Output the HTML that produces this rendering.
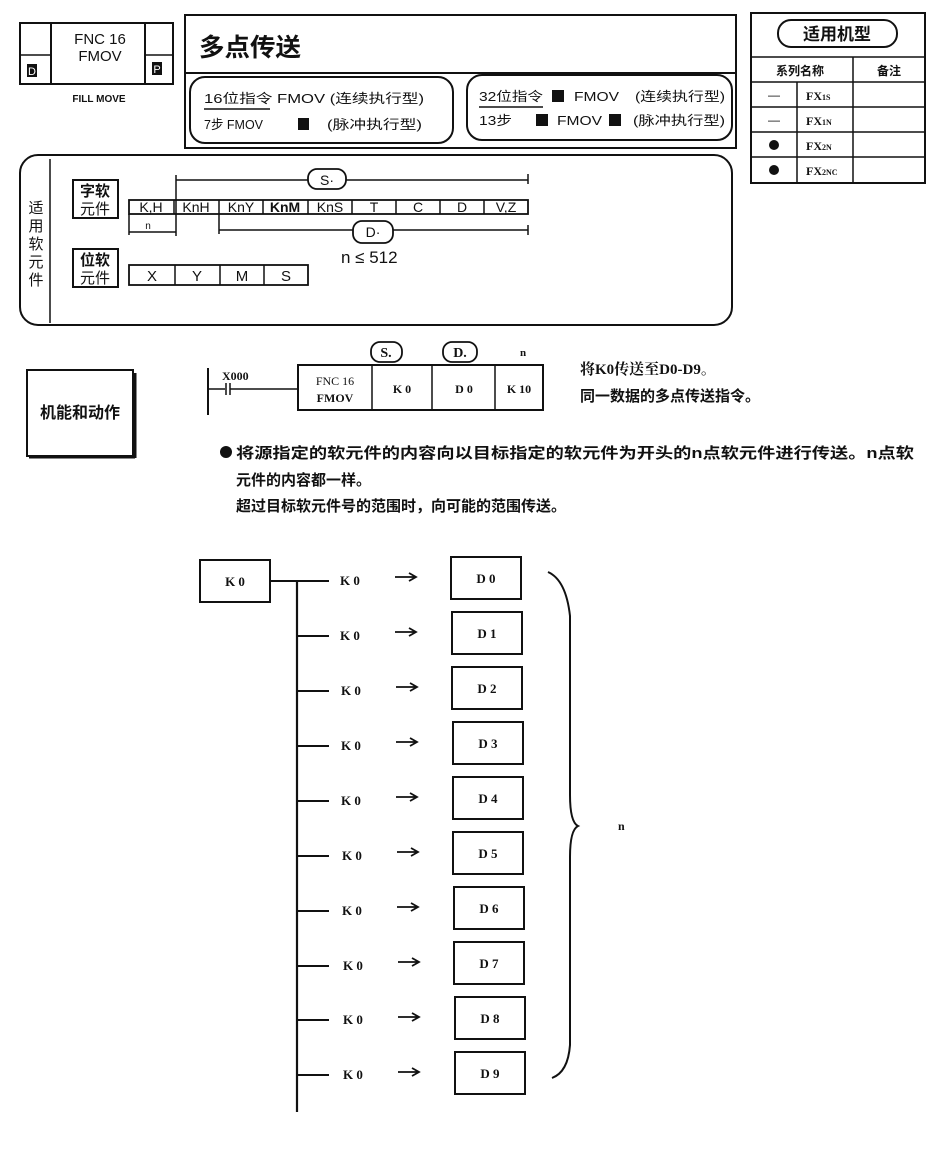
<!DOCTYPE html>
<html><head><meta charset="utf-8"><style>
html,body{margin:0;padding:0;background:#fff;}
svg{display:block}
text{font-family:"Liberation Sans","Noto Sans CJK SC",sans-serif;fill:#111}
text.s,.s text{font-family:"Liberation Serif","Noto Serif CJK SC",serif;font-weight:bold}
</style></head><body>
<svg width="933" height="1149" viewBox="0 0 933 1149" xmlns="http://www.w3.org/2000/svg" stroke="#111" fill="none">
<!-- FNC box -->
<rect x="20" y="23" width="153" height="61" stroke-width="2"/>
<line x1="51" y1="23" x2="51" y2="84" stroke-width="2"/>
<line x1="145" y1="23" x2="145" y2="84" stroke-width="2"/>
<line x1="20" y1="55" x2="51" y2="55" stroke-width="1.5"/>
<line x1="145" y1="55" x2="173" y2="55" stroke-width="1.5"/>
<rect x="27" y="64" width="10" height="13" fill="#111" stroke="none"/>
<text x="32" y="75" font-size="11" text-anchor="middle" style="fill:#fff" stroke="none">D</text>
<rect x="152" y="62" width="10" height="13" fill="#111" stroke="none"/>
<text x="157" y="73" font-size="11" text-anchor="middle" style="fill:#fff" stroke="none">P</text>
<g stroke="none">
<text x="100" y="44" font-size="15" text-anchor="middle">FNC 16</text>
<text x="100" y="61" font-size="15" text-anchor="middle">FMOV</text>
<text x="99" y="102" font-size="10" text-anchor="middle" font-weight="bold">FILL MOVE</text>
</g>
<!-- Title box -->
<rect x="185" y="15" width="551" height="133" stroke-width="2"/>
<line x1="185" y1="73" x2="736" y2="73" stroke-width="2"/>
<text x="199" y="56" font-size="25" font-weight="bold" stroke="none" textLength="102" lengthAdjust="spacingAndGlyphs">多点传送</text>
<rect x="190" y="77" width="263" height="66" rx="15" stroke-width="2"/>
<rect x="467" y="75" width="265" height="65" rx="15" stroke-width="2"/>
<g stroke="none" font-size="13">
<text x="204" y="103" textLength="220" lengthAdjust="spacingAndGlyphs">16位指令 FMOV (连续执行型)</text>
<text x="204" y="129" textLength="59" lengthAdjust="spacingAndGlyphs">7步 FMOV</text>
<rect x="298" y="118" width="11" height="12" fill="#111"/>
<text x="327" y="129" textLength="95" lengthAdjust="spacingAndGlyphs">(脉冲执行型)</text>
<text x="479" y="101" textLength="64" lengthAdjust="spacingAndGlyphs">32位指令</text>
<rect x="552" y="90" width="12" height="12" fill="#111"/>
<text x="574" y="101" textLength="45" lengthAdjust="spacingAndGlyphs">FMOV</text>
<text x="635" y="101" textLength="90" lengthAdjust="spacingAndGlyphs">(连续执行型)</text>
<text x="479" y="125" textLength="33" lengthAdjust="spacingAndGlyphs">13步</text>
<rect x="536" y="114" width="12" height="12" fill="#111"/>
<text x="557" y="125" textLength="45" lengthAdjust="spacingAndGlyphs">FMOV</text>
<rect x="609" y="114" width="12" height="12" fill="#111"/>
<text x="633" y="125" textLength="92" lengthAdjust="spacingAndGlyphs">(脉冲执行型)</text>
</g>
<line x1="204" y1="109" x2="270" y2="109" stroke-width="1.5"/>
<line x1="479" y1="107" x2="543" y2="107" stroke-width="1.5"/>
<!-- Right table -->
<rect x="751" y="13" width="174" height="170" stroke-width="2"/>
<rect x="778" y="20" width="119" height="27" rx="13" stroke-width="2"/>
<text x="837" y="40" font-size="17" font-weight="bold" text-anchor="middle" stroke="none">适用机型</text>
<g stroke-width="1.5">
<line x1="751" y1="57" x2="925" y2="57"/><line x1="751" y1="82" x2="925" y2="82"/>
<line x1="751" y1="107" x2="925" y2="107"/><line x1="751" y1="132" x2="925" y2="132"/>
<line x1="751" y1="157" x2="925" y2="157"/>
<line x1="853" y1="57" x2="853" y2="183"/><line x1="797" y1="82" x2="797" y2="183"/>
</g>
<g stroke="none" font-size="12">
<text x="800" y="75" text-anchor="middle" font-weight="bold">系列名称</text>
<text x="889" y="75" text-anchor="middle" font-weight="bold">备注</text>
<text x="774" y="99" text-anchor="middle">—</text>
<text x="774" y="124" text-anchor="middle">—</text>
<circle cx="774" cy="145" r="5" fill="#111"/>
<circle cx="774" cy="170" r="5" fill="#111"/>
</g>
<g stroke="none" font-size="12" class="s">
<text x="806" y="100">FX<tspan font-size="8">1S</tspan></text>
<text x="806" y="125">FX<tspan font-size="8">1N</tspan></text>
<text x="806" y="150">FX<tspan font-size="8">2N</tspan></text>
<text x="806" y="175">FX<tspan font-size="8">2NC</tspan></text>
</g>
<!-- devices box -->
<rect x="20" y="155" width="712" height="170" rx="18" stroke-width="2"/>
<line x1="50" y1="159" x2="50" y2="323" stroke-width="1.5"/>
<g stroke="none" font-size="15">
<text x="36" y="213" text-anchor="middle">适</text>
<text x="36" y="231" text-anchor="middle">用</text>
<text x="36" y="249" text-anchor="middle">软</text>
<text x="36" y="267" text-anchor="middle">元</text>
<text x="36" y="285" text-anchor="middle">件</text>
</g>
<rect x="73" y="180" width="45" height="38" stroke-width="2"/>
<rect x="73" y="249" width="45" height="38" stroke-width="2"/>
<g stroke="none" font-size="15" font-weight="bold">
<text x="95" y="196" text-anchor="middle">字软</text>
<text x="95" y="214" text-anchor="middle" font-weight="normal">元件</text>
<text x="95" y="265" text-anchor="middle">位软</text>
<text x="95" y="283" text-anchor="middle" font-weight="normal">元件</text>
</g>
<rect x="129" y="200" width="399" height="14" stroke-width="1.8"/>
<g stroke-width="1.5">
<line x1="174" y1="200" x2="174" y2="214"/><line x1="219" y1="200" x2="219" y2="214"/>
<line x1="263" y1="200" x2="263" y2="214"/><line x1="308" y1="200" x2="308" y2="214"/>
<line x1="352" y1="200" x2="352" y2="214"/><line x1="396" y1="200" x2="396" y2="214"/>
<line x1="440" y1="200" x2="440" y2="214"/><line x1="484" y1="200" x2="484" y2="214"/>
</g>
<g stroke="none" font-size="14" text-anchor="middle">
<text x="151" y="212">K,H</text><text x="196" y="212">KnH</text><text x="241" y="212">KnY</text>
<text x="285" y="212" font-weight="bold">KnM</text><text x="330" y="212">KnS</text><text x="374" y="212">T</text>
<text x="418" y="212">C</text><text x="462" y="212">D</text><text x="506" y="212">V,Z</text>
</g>
<g stroke-width="1.5">
<line x1="176" y1="180" x2="308" y2="180"/><line x1="346" y1="180" x2="528" y2="180"/>
<line x1="176" y1="175" x2="176" y2="236"/><line x1="528" y1="174" x2="528" y2="184"/>
<line x1="219" y1="230" x2="353" y2="230"/><line x1="393" y1="230" x2="528" y2="230"/>
<line x1="219" y1="214" x2="219" y2="234"/><line x1="528" y1="225" x2="528" y2="235"/>
<line x1="129" y1="232" x2="176" y2="232"/><line x1="129" y1="214" x2="129" y2="235"/>
</g>
<rect x="308" y="169" width="38" height="20" rx="9" stroke-width="1.8"/>
<rect x="353" y="221" width="40" height="22" rx="9" stroke-width="1.8"/>
<g stroke="none">
<text x="327" y="185" font-size="14" text-anchor="middle">S·</text>
<text x="373" y="237" font-size="14" text-anchor="middle">D·</text>
<text x="148" y="229" font-size="10" text-anchor="middle">n</text>
<text x="341" y="263" font-size="17">n ≤ 512</text>
</g>
<rect x="129" y="265" width="179" height="20" stroke-width="1.8"/>
<g stroke-width="1.5"><line x1="175" y1="265" x2="175" y2="285"/><line x1="220" y1="265" x2="220" y2="285"/><line x1="264" y1="265" x2="264" y2="285"/></g>
<g stroke="none" font-size="15" text-anchor="middle">
<text x="152" y="281">X</text><text x="197" y="281">Y</text><text x="242" y="281">M</text><text x="286" y="281">S</text>
</g>
<!-- function box -->
<rect x="27" y="370" width="106" height="86" stroke-width="2"/>
<line x1="135" y1="373" x2="135" y2="458" stroke-width="3"/>
<line x1="29" y1="457" x2="135" y2="457" stroke-width="3"/>
<text x="80" y="418" font-size="16" font-weight="bold" text-anchor="middle" stroke="none">机能和动作</text>
<!-- ladder -->
<line x1="208" y1="368" x2="208" y2="415" stroke-width="2"/>
<line x1="208" y1="389" x2="225" y2="389" stroke-width="1.5"/>
<line x1="226" y1="383" x2="226" y2="395" stroke-width="1.5"/><line x1="230" y1="383" x2="230" y2="395" stroke-width="1.5"/>
<line x1="230" y1="389" x2="298" y2="389" stroke-width="1.5"/>
<text x="222" y="380" font-size="12" class="s" stroke="none">X000</text>
<rect x="298" y="365" width="245" height="45" stroke-width="2"/>
<line x1="372" y1="365" x2="372" y2="410" stroke-width="1.5"/>
<line x1="432" y1="365" x2="432" y2="410" stroke-width="1.5"/>
<line x1="495" y1="365" x2="495" y2="410" stroke-width="1.5"/>
<g stroke="none" class="s" font-size="12" text-anchor="middle">
<text x="335" y="385" style="font-weight:normal">FNC 16</text>
<text x="335" y="402">FMOV</text>
<text x="402" y="393">K 0</text>
<text x="464" y="393">D 0</text>
<text x="519" y="393">K 10</text>
<text x="523" y="356" font-size="11">n</text>
</g>
<rect x="371" y="342" width="31" height="20" rx="9" stroke-width="1.8"/>
<rect x="443" y="342" width="34" height="20" rx="9" stroke-width="1.8"/>
<text x="386" y="357" font-size="14" text-anchor="middle" stroke="none" class="s">S.</text>
<text x="460" y="357" font-size="14" text-anchor="middle" stroke="none" class="s">D.</text>
<g stroke="none" font-size="15" font-weight="bold">
<text x="580" y="374" class="s">将K0传送至D0-D9。</text>
<text x="580" y="401">同一数据的多点传送指令。</text>
<circle cx="226" cy="452" r="6" fill="#111"/>
<text x="236" y="458" textLength="678" lengthAdjust="spacingAndGlyphs">将源指定的软元件的内容向以目标指定的软元件为开头的n点软元件进行传送。n点软</text>
<text x="236" y="485">元件的内容都一样。</text>
<text x="236" y="511">超过目标软元件号的范围时，向可能的范围传送。</text>
</g>
<!-- diagram -->
<rect x="200" y="560" width="70" height="42" stroke-width="2"/>
<line x1="270" y1="581" x2="329" y2="581" stroke-width="2"/>
<line x1="297" y1="581" x2="297" y2="1112" stroke-width="2.2"/>
<path d="M548 572 Q566 580 570 616 L570 795 Q570 822 578 826 Q570 830 570 857 L570 1045 Q568 1072 552 1078" stroke-width="2"/>
<text x="618" y="830" font-size="12" class="s" stroke="none">n</text>
<g stroke-width="2">
<line x1="298" y1="636" x2="329" y2="636"/><line x1="298" y1="691" x2="329" y2="691"/>
<line x1="298" y1="746" x2="329" y2="746"/><line x1="298" y1="801" x2="329" y2="801"/>
<line x1="298" y1="856" x2="329" y2="856"/><line x1="298" y1="911" x2="329" y2="911"/>
<line x1="298" y1="966" x2="329" y2="966"/><line x1="298" y1="1020" x2="329" y2="1020"/>
<line x1="298" y1="1075" x2="329" y2="1075"/>
<rect x="451" y="557" width="70" height="42"/><rect x="452" y="612" width="70" height="42"/>
<rect x="452" y="667" width="70" height="42"/><rect x="453" y="722" width="70" height="42"/>
<rect x="453" y="777" width="70" height="42"/><rect x="453" y="832" width="70" height="42"/>
<rect x="454" y="887" width="70" height="42"/><rect x="454" y="942" width="70" height="42"/>
<rect x="455" y="997" width="70" height="42"/><rect x="455" y="1052" width="70" height="42"/>
</g>
<g stroke-width="1.8">
<path d="M395 577H415M409 573L416 577L409 581"/>
<path d="M395 632H415M409 628L416 632L409 636"/>
<path d="M396 687H416M410 683L417 687L410 691"/>
<path d="M396 742H416M410 738L417 742L410 746"/>
<path d="M396 797H416M410 793L417 797L410 801"/>
<path d="M397 852H417M411 848L418 852L411 856"/>
<path d="M397 907H417M411 903L418 907L411 911"/>
<path d="M398 962H418M412 958L419 962L412 966"/>
<path d="M398 1017H418M412 1013L419 1017L412 1021"/>
<path d="M398 1072H418M412 1068L419 1072L412 1076"/>
</g>
<g stroke="none" class="s" font-size="13">
<text x="235" y="586" text-anchor="middle">K 0</text>
<text x="340" y="585">K 0</text><text x="340" y="640">K 0</text><text x="341" y="695">K 0</text>
<text x="341" y="750">K 0</text><text x="341" y="805">K 0</text><text x="342" y="860">K 0</text>
<text x="342" y="915">K 0</text><text x="343" y="970">K 0</text><text x="343" y="1024">K 0</text>
<text x="343" y="1079">K 0</text>
<g text-anchor="middle">
<text x="486" y="583">D 0</text><text x="487" y="638">D 1</text><text x="487" y="693">D 2</text>
<text x="488" y="748">D 3</text><text x="488" y="803">D 4</text><text x="488" y="858">D 5</text>
<text x="489" y="913">D 6</text><text x="489" y="968">D 7</text><text x="490" y="1023">D 8</text>
<text x="490" y="1078">D 9</text>
</g>
</g>
</svg>
</body></html>
